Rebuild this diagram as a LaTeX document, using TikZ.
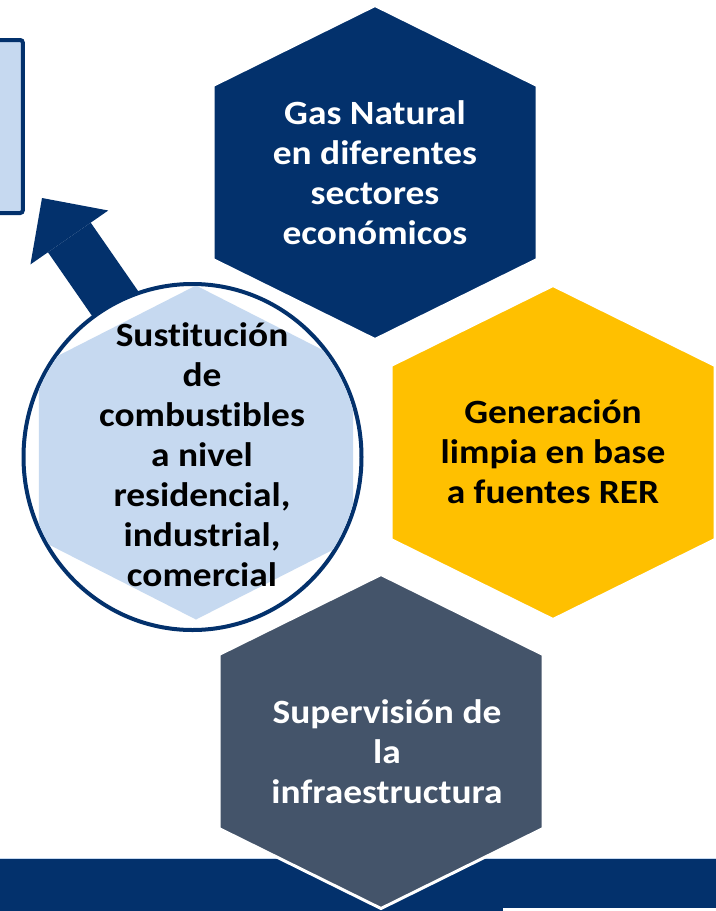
\documentclass[tikz,border=0pt]{standalone}
\usepackage{fontspec}
\newfontfamily\hexfont{Carlito}[FakeStretch=1.1, Ligatures=NoCommon]
\usetikzlibrary{arrows.meta, shapes.geometric}
\definecolor{navy}{RGB}{3,49,108}
\definecolor{gold}{RGB}{255,192,0}
\definecolor{slate}{RGB}{68,84,106}
\definecolor{paleblue}{RGB}{198,217,240}

\begin{document}
\begin{tikzpicture}[x=0.75pt, y=-0.75pt,
        hexa/.pic = {\path[pic actions] (0,-167) -- (162,-87) -- (162,87)
                        -- (0,167) -- (-162,87) -- (-162,-87) -- cycle;},
     goalbox/.style = {draw=navy, fill=paleblue, line width=3pt,
                       rounded corners=2pt, inner sep=0pt,
                       minimum width=32pt, minimum height=129.75pt},
        ring/.style = {ellipse, draw=navy, fill=white, line width=3pt,
                       inner sep=0pt,
                       minimum width=253.5pt, minimum height=259.5pt},
    bigarrow/.style = {navy, line width=39pt,
                       -{Triangle[width=71pt, length=36pt, line width=0pt]}},
     hextext/.style = {text=#1, align=center, inner sep=0pt,
                       font=\hexfont\bfseries\fontsize{25.5pt}{30pt}\selectfont}
                    ]
\useasboundingbox (0,0) rectangle (716,911);
\clip (0,0) rectangle (716,911);
% Draw the box on the left and the arrow pointing to it
\node[goalbox] (goal) at (1.5,126.5) {};
\coordinate (tail) at (130,325);
\coordinate (aim)  at (42,198);
\draw[bigarrow] (tail) -- (aim);
% Draw the circle with the pale hexagon inside
\node[ring] (ring) at (192.5,457) {};
\begin{scope}
    \clip (ring.center) ellipse [x radius=167, y radius=171];
    \pic[fill=paleblue, xscale=0.97] at (196,452.5) {hexa};
\end{scope}
% Draw the band at the bottom
\fill[navy] (0,858) rectangle (716,911);
\draw[paleblue, line width=0.75pt] (0,858.5) -- (716,858.5);
\fill[white] (503,908) rectangle (716,911);
% Draw the three outer hexagons
\foreach \cx/\cy/\col in {375/172.5/navy, 553/452.5/gold, 381/741.5/slate}
    \pic[fill=\col, draw=white, line width=2.25pt] at (\cx,\cy) {hexa};
% Texts of the hexagons
\node[hextext=white] (gas)  at (375,173)
    {Gas Natural\\en diferentes\\sectores\\económicos};
\node[hextext=black] (rer)  at (553,452)
    {Generación\\limpia en base\\a fuentes RER};
\node[hextext=white] (sup)  at (387,752)
    {Supervisión de\\la\\infraestructura};
\node[hextext=black] (sust) at (202,455)
    {Sustitución\\de\\combustibles\\a nivel\\residencial,\\industrial,\\comercial};
\end{tikzpicture}
\end{document}
